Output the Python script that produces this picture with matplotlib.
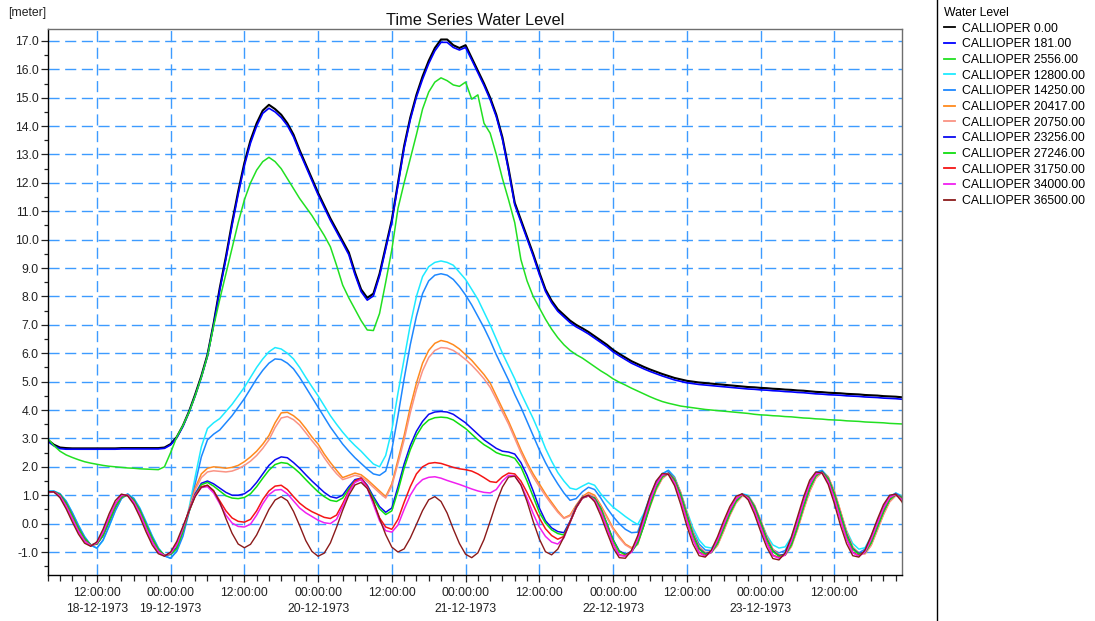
import numpy as np
import pandas as pd
import matplotlib
matplotlib.use("Agg")
import matplotlib.pyplot as plt
import matplotlib.dates as mdates
from matplotlib.ticker import MultipleLocator, FuncFormatter, FormatStrFormatter
from matplotlib.lines import Line2D

plt.rcParams['font.family'] = ['Liberation Sans', 'DejaVu Sans']

# Hourly water levels (m), first sample at 18-12-1973 04:00
START = pd.Timestamp('1973-12-18 04:00')
END = pd.Timestamp('1973-12-23 23:04')

chainages = ['0.00', '181.00', '2556.00', '12800.00', '14250.00', '20417.00',
             '20750.00', '23256.00', '27246.00', '31750.00', '34000.00', '36500.00']
colors = ['#000000', '#0000FF', '#22E022', '#1EEBFF', '#1E88FF', '#FF8A1E',
          '#FA9384', '#0A0AF0', '#10DD10', '#F51515', '#F020F0', '#8B1A1A']

level_0 = [
    2.95, 2.78, 2.68, 2.66, 2.65, 2.65, 2.65, 2.65, 2.65, 2.65,
    2.65, 2.65, 2.66, 2.66, 2.66, 2.66, 2.66, 2.66, 2.66, 2.68,
    2.80, 3.05, 3.45, 3.95, 4.55, 5.20, 5.95, 7.05, 8.30, 9.40,
    10.60, 11.70, 12.70, 13.50, 14.10, 14.55, 14.75, 14.60, 14.40, 14.10,
    13.70, 13.15, 12.65, 12.15, 11.65, 11.20, 10.75, 10.35, 9.95, 9.55,
    8.85, 8.25, 7.95, 8.10, 8.80, 9.75, 10.70, 12.00, 13.30, 14.30,
    15.10, 15.75, 16.30, 16.75, 17.05, 17.05, 16.85, 16.75, 16.85, 16.40,
    15.95, 15.50, 15.00, 14.40, 13.60, 12.50, 11.30, 10.70, 10.10, 9.50,
    8.85, 8.25, 7.85, 7.55, 7.35, 7.15, 7.00, 6.88, 6.75, 6.60,
    6.45, 6.30, 6.12, 5.98, 5.85, 5.72, 5.62, 5.52, 5.43, 5.35,
    5.27, 5.20, 5.13, 5.08, 5.03, 5.00, 4.97, 4.95, 4.93, 4.91,
    4.89, 4.87, 4.85, 4.83, 4.81, 4.80, 4.78, 4.77, 4.75, 4.74,
    4.72, 4.71, 4.69, 4.68, 4.66, 4.64, 4.63, 4.61, 4.60, 4.59,
    4.57, 4.56, 4.55, 4.53, 4.52, 4.51, 4.49, 4.48, 4.47, 4.45,
    4.44]

level_181 = [
    2.90, 2.74, 2.64, 2.62, 2.62, 2.62, 2.62, 2.62, 2.62, 2.62,
    2.62, 2.62, 2.63, 2.63, 2.63, 2.63, 2.63, 2.63, 2.63, 2.65,
    2.77, 3.02, 3.42, 3.92, 4.50, 5.15, 5.90, 7.00, 8.22, 9.32,
    10.50, 11.60, 12.60, 13.40, 14.00, 14.45, 14.63, 14.50, 14.30, 14.02,
    13.62, 13.08, 12.58, 12.08, 11.58, 11.13, 10.68, 10.28, 9.88, 9.47,
    8.77, 8.17, 7.87, 8.02, 8.72, 9.67, 10.62, 11.92, 13.22, 14.22,
    15.02, 15.65, 16.20, 16.65, 16.95, 16.95, 16.77, 16.68, 16.77, 16.33,
    15.88, 15.43, 14.93, 14.33, 13.53, 12.43, 11.23, 10.63, 10.03, 9.43,
    8.78, 8.18, 7.78, 7.48, 7.28, 7.08, 6.93, 6.81, 6.68, 6.53,
    6.38, 6.23, 6.05, 5.91, 5.78, 5.65, 5.55, 5.45, 5.36, 5.28,
    5.20, 5.13, 5.06, 5.01, 4.96, 4.93, 4.90, 4.88, 4.86, 4.84,
    4.82, 4.80, 4.78, 4.76, 4.74, 4.73, 4.71, 4.70, 4.68, 4.67,
    4.65, 4.64, 4.62, 4.61, 4.59, 4.57, 4.56, 4.54, 4.53, 4.52,
    4.50, 4.49, 4.48, 4.46, 4.45, 4.44, 4.42, 4.41, 4.40, 4.38,
    4.37]

level_2556 = [
    3.00, 2.75, 2.55, 2.42, 2.33, 2.25, 2.18, 2.13, 2.09, 2.05,
    2.02, 2.00, 1.98, 1.96, 1.95, 1.93, 1.92, 1.91, 1.90, 2.00,
    2.50, 3.05, 3.45, 3.92, 4.50, 5.15, 5.90, 6.95, 7.90, 8.80,
    9.70, 10.60, 11.40, 12.00, 12.45, 12.75, 12.90, 12.75, 12.50, 12.15,
    11.80, 11.45, 11.15, 10.85, 10.50, 10.15, 9.75, 9.10, 8.40, 7.95,
    7.55, 7.15, 6.82, 6.80, 7.40, 8.50, 9.65, 11.10, 12.00, 12.85,
    13.70, 14.60, 15.20, 15.55, 15.70, 15.60, 15.45, 15.40, 15.55, 14.95,
    15.10, 14.10, 13.75, 13.00, 12.15, 11.40, 10.60, 9.30, 8.55, 8.00,
    7.60, 7.20, 6.85, 6.55, 6.30, 6.10, 5.95, 5.83, 5.68, 5.53,
    5.38, 5.25, 5.10, 4.98, 4.88, 4.77, 4.67, 4.57, 4.47, 4.38,
    4.30, 4.24, 4.19, 4.14, 4.11, 4.08, 4.05, 4.02, 4.00, 3.98,
    3.96, 3.94, 3.92, 3.90, 3.88, 3.85, 3.83, 3.82, 3.80, 3.79,
    3.77, 3.76, 3.74, 3.72, 3.71, 3.69, 3.68, 3.66, 3.65, 3.64,
    3.62, 3.61, 3.60, 3.58, 3.57, 3.56, 3.55, 3.53, 3.52, 3.51,
    3.50]

level_12800 = [
    1.15, 1.15, 1.05, 0.80, 0.40, -0.05, -0.45, -0.75, -0.87, -0.60,
    -0.10, 0.45, 0.88, 1.05, 0.90, 0.55, 0.07, -0.42, -0.85, -1.13,
    -1.22, -0.95, -0.35, 0.55, 1.65, 2.70, 3.35, 3.55, 3.70, 3.95,
    4.20, 4.50, 4.80, 5.15, 5.50, 5.80, 6.05, 6.20, 6.15, 6.00,
    5.80, 5.50, 5.15, 4.82, 4.50, 4.15, 3.80, 3.50, 3.22, 2.97,
    2.75, 2.55, 2.32, 2.10, 2.00, 2.40, 3.30, 4.60, 5.80, 7.00,
    8.00, 8.70, 9.05, 9.20, 9.25, 9.20, 9.10, 8.85, 8.60, 8.25,
    7.90, 7.45, 7.00, 6.50, 6.00, 5.55, 5.10, 4.60, 4.15, 3.70,
    3.20, 2.65, 2.20, 1.80, 1.50, 1.25, 1.20, 1.32, 1.43, 1.35,
    1.05, 0.80, 0.58, 0.42, 0.25, 0.10, -0.03, 0.35, 0.95, 1.45,
    1.75, 1.88, 1.65, 1.10, 0.45, -0.15, -0.58, -0.82, -0.86, -0.62,
    -0.12, 0.42, 0.83, 1.05, 1.00, 0.65, 0.10, -0.40, -0.75, -0.86,
    -0.82, -0.48, 0.12, 0.80, 1.42, 1.80, 1.88, 1.65, 1.10, 0.40,
    -0.25, -0.70, -0.90, -0.85, -0.45, 0.08, 0.58, 0.93, 1.08, 0.98,
    0.65]

level_14250 = [
    1.13, 1.14, 1.05, 0.78, 0.38, -0.07, -0.47, -0.76, -0.86, -0.58,
    -0.08, 0.46, 0.88, 1.04, 0.88, 0.52, 0.04, -0.45, -0.87, -1.14,
    -1.22, -0.98, -0.45, 0.40, 1.40, 2.35, 2.95, 3.15, 3.30, 3.55,
    3.80, 4.10, 4.40, 4.75, 5.10, 5.40, 5.65, 5.80, 5.78, 5.65,
    5.45, 5.15, 4.80, 4.45, 4.10, 3.75, 3.40, 3.10, 2.80, 2.55,
    2.32, 2.12, 1.92, 1.75, 1.70, 1.85, 2.60, 3.80, 5.10, 6.30,
    7.30, 8.10, 8.55, 8.75, 8.80, 8.75, 8.60, 8.35, 8.05, 7.70,
    7.30, 6.90, 6.45, 5.95, 5.50, 5.05, 4.55, 4.10, 3.60, 3.10,
    2.60, 2.15, 1.75, 1.40, 1.08, 0.82, 0.88, 1.12, 1.28, 1.20,
    0.90, 0.55, 0.25, 0.00, -0.20, -0.32, -0.30, 0.30, 0.93, 1.45,
    1.75, 1.87, 1.62, 1.05, 0.35, -0.28, -0.72, -0.93, -0.95, -0.68,
    -0.15, 0.40, 0.82, 1.04, 0.97, 0.58, -0.02, -0.55, -0.92, -1.03,
    -0.95, -0.55, 0.10, 0.80, 1.42, 1.80, 1.87, 1.60, 1.00, 0.25,
    -0.42, -0.85, -1.03, -0.90, -0.48, 0.07, 0.58, 0.93, 1.07, 0.94,
    0.55]

level_20417 = [
    1.10, 1.12, 1.02, 0.72, 0.29, -0.16, -0.53, -0.75, -0.72, -0.42,
    0.08, 0.58, 0.93, 1.01, 0.83, 0.46, -0.03, -0.52, -0.91, -1.11,
    -1.08, -0.85, -0.25, 0.50, 1.25, 1.75, 1.95, 2.00, 1.98, 1.95,
    1.98, 2.05, 2.18, 2.35, 2.55, 2.80, 3.10, 3.55, 3.90, 3.92,
    3.80, 3.62, 3.35, 3.05, 2.80, 2.45, 2.15, 1.88, 1.62, 1.70,
    1.78, 1.72, 1.55, 1.35, 1.15, 0.95, 1.40, 2.25, 3.10, 4.10,
    4.95, 5.65, 6.10, 6.35, 6.45, 6.40, 6.30, 6.15, 5.95, 5.75,
    5.50, 5.25, 4.95, 4.50, 4.05, 3.60, 3.10, 2.60, 2.15, 1.75,
    1.40, 1.05, 0.75, 0.45, 0.20, 0.30, 0.65, 0.95, 1.10, 1.00,
    0.65, 0.25, -0.15, -0.45, -0.72, -0.85, -0.72, -0.05, 0.60, 1.20,
    1.60, 1.78, 1.60, 1.10, 0.40, -0.30, -0.82, -1.02, -1.00, -0.75,
    -0.25, 0.30, 0.74, 0.98, 0.97, 0.65, 0.12, -0.45, -0.90, -1.10,
    -1.10, -0.80, -0.20, 0.50, 1.15, 1.62, 1.82, 1.65, 1.15, 0.45,
    -0.28, -0.82, -1.05, -1.05, -0.75, -0.22, 0.33, 0.78, 1.00, 0.95,
    0.62]

level_20750 = [
    1.09, 1.11, 1.01, 0.71, 0.28, -0.17, -0.54, -0.76, -0.73, -0.43,
    0.07, 0.57, 0.92, 1.00, 0.82, 0.45, -0.04, -0.53, -0.92, -1.12,
    -1.08, -0.86, -0.27, 0.45, 1.18, 1.62, 1.82, 1.86, 1.84, 1.82,
    1.85, 1.93, 2.05, 2.20, 2.40, 2.65, 2.95, 3.38, 3.72, 3.77,
    3.66, 3.47, 3.20, 2.92, 2.66, 2.32, 2.02, 1.76, 1.55, 1.62,
    1.70, 1.65, 1.48, 1.28, 1.08, 0.90, 1.33, 2.12, 2.95, 3.90,
    4.72, 5.38, 5.85, 6.10, 6.20, 6.18, 6.10, 5.95, 5.78, 5.58,
    5.35, 5.10, 4.80, 4.38, 3.93, 3.50, 3.00, 2.50, 2.05, 1.65,
    1.30, 0.98, 0.68, 0.40, 0.18, 0.27, 0.60, 0.90, 1.05, 0.95,
    0.60, 0.20, -0.20, -0.50, -0.75, -0.88, -0.74, -0.08, 0.58, 1.18,
    1.58, 1.76, 1.58, 1.08, 0.38, -0.32, -0.84, -1.04, -1.02, -0.77,
    -0.27, 0.28, 0.72, 0.96, 0.95, 0.63, 0.10, -0.47, -0.92, -1.12,
    -1.12, -0.82, -0.22, 0.48, 1.13, 1.60, 1.80, 1.63, 1.13, 0.43,
    -0.30, -0.84, -1.07, -1.07, -0.77, -0.24, 0.31, 0.76, 0.98, 0.93,
    0.60]

level_23256 = [
    1.10, 1.12, 1.02, 0.72, 0.29, -0.16, -0.53, -0.75, -0.72, -0.42,
    0.08, 0.58, 0.93, 1.01, 0.83, 0.46, -0.03, -0.52, -0.91, -1.11,
    -1.08, -0.85, -0.25, 0.45, 1.05, 1.42, 1.50, 1.40, 1.25, 1.10,
    1.00, 1.00, 1.05, 1.20, 1.45, 1.75, 2.05, 2.25, 2.35, 2.32,
    2.15, 1.95, 1.72, 1.50, 1.30, 1.10, 0.95, 0.90, 1.00, 1.30,
    1.55, 1.60, 1.35, 0.95, 0.60, 0.40, 0.55, 1.30, 2.10, 2.75,
    3.25, 3.60, 3.85, 3.93, 3.95, 3.93, 3.85, 3.70, 3.55, 3.35,
    3.15, 2.95, 2.80, 2.65, 2.55, 2.52, 2.45, 2.15, 1.70, 1.15,
    0.55, 0.10, -0.15, -0.28, -0.32, 0.08, 0.60, 0.92, 0.98, 0.90,
    0.54, 0.00, -0.56, -0.96, -1.08, -0.98, -0.67, -0.06, 0.65, 1.26,
    1.66, 1.78, 1.55, 1.02, 0.32, -0.38, -0.88, -1.06, -1.00, -0.68,
    -0.16, 0.37, 0.79, 1.02, 0.95, 0.60, 0.06, -0.53, -0.96, -1.13,
    -1.08, -0.74, -0.11, 0.61, 1.25, 1.69, 1.83, 1.59, 1.06, 0.35,
    -0.37, -0.88, -1.06, -1.00, -0.66, -0.12, 0.43, 0.85, 1.03, 0.92,
    0.56]

level_27246 = [
    1.10, 1.12, 1.02, 0.72, 0.29, -0.16, -0.53, -0.75, -0.72, -0.42,
    0.08, 0.58, 0.93, 1.01, 0.83, 0.46, -0.03, -0.52, -0.91, -1.11,
    -1.08, -0.88, -0.28, 0.42, 1.00, 1.37, 1.45, 1.32, 1.15, 0.98,
    0.90, 0.88, 0.92, 1.05, 1.30, 1.60, 1.88, 2.08, 2.15, 2.12,
    1.97, 1.78, 1.55, 1.33, 1.12, 0.95, 0.82, 0.78, 0.90, 1.22,
    1.50, 1.55, 1.30, 0.88, 0.52, 0.32, 0.45, 1.15, 1.95, 2.60,
    3.10, 3.45, 3.65, 3.73, 3.75, 3.73, 3.65, 3.50, 3.35, 3.15,
    2.95, 2.78, 2.65, 2.50, 2.42, 2.38, 2.30, 2.00, 1.50, 0.95,
    0.40, 0.02, -0.22, -0.35, -0.40, 0.05, 0.58, 0.90, 0.97, 0.89,
    0.53, -0.01, -0.58, -0.98, -1.10, -1.00, -0.69, -0.08, 0.63, 1.24,
    1.64, 1.77, 1.54, 1.01, 0.30, -0.40, -0.90, -1.08, -1.02, -0.70,
    -0.18, 0.35, 0.78, 1.01, 0.94, 0.59, 0.04, -0.55, -0.98, -1.15,
    -1.10, -0.76, -0.13, 0.59, 1.24, 1.68, 1.82, 1.58, 1.05, 0.33,
    -0.39, -0.90, -1.08, -1.02, -0.68, -0.14, 0.41, 0.84, 1.02, 0.91,
    0.54]

level_31750 = [
    1.11, 1.12, 0.97, 0.62, 0.18, -0.27, -0.61, -0.78, -0.68, -0.31,
    0.22, 0.70, 0.99, 1.00, 0.76, 0.35, -0.16, -0.64, -0.99, -1.13,
    -1.04, -0.72, -0.15, 0.45, 1.00, 1.30, 1.35, 1.15, 0.80, 0.45,
    0.20, 0.08, 0.05, 0.15, 0.45, 0.85, 1.15, 1.32, 1.35, 1.20,
    0.95, 0.72, 0.55, 0.42, 0.32, 0.22, 0.18, 0.30, 0.70, 1.15,
    1.50, 1.60, 1.30, 0.75, 0.20, -0.12, -0.20, 0.15, 0.75, 1.30,
    1.75, 2.00, 2.12, 2.15, 2.12, 2.05, 1.98, 1.93, 1.90, 1.85,
    1.75, 1.62, 1.48, 1.45, 1.65, 1.78, 1.75, 1.50, 1.10, 0.65,
    0.20, -0.18, -0.42, -0.55, -0.45, 0.05, 0.56, 0.90, 0.98, 0.83,
    0.42, -0.14, -0.70, -1.10, -1.13, -0.99, -0.54, 0.12, 0.80, 1.37,
    1.71, 1.75, 1.45, 0.87, 0.13, -0.54, -1.01, -1.13, -0.99, -0.57,
    -0.03, 0.49, 0.88, 1.03, 0.90, 0.48, -0.10, -0.67, -1.11, -1.20,
    -1.09, -0.61, 0.06, 0.78, 1.40, 1.75, 1.80, 1.49, 0.89, 0.15,
    -0.54, -1.01, -1.13, -0.99, -0.54, 0.02, 0.55, 0.92, 1.03, 0.85,
    0.43]

level_34000 = [
    1.11, 1.12, 0.97, 0.62, 0.18, -0.27, -0.61, -0.78, -0.68, -0.31,
    0.22, 0.70, 0.99, 1.00, 0.76, 0.35, -0.16, -0.64, -0.99, -1.13,
    -1.04, -0.74, -0.17, 0.45, 0.98, 1.27, 1.30, 1.08, 0.70, 0.30,
    0.02, -0.10, -0.12, -0.02, 0.30, 0.70, 1.02, 1.18, 1.20, 1.05,
    0.80, 0.55, 0.38, 0.25, 0.12, 0.03, 0.00, 0.15, 0.60, 1.10,
    1.45, 1.55, 1.25, 0.68, 0.10, -0.25, -0.30, -0.05, 0.50, 1.00,
    1.35, 1.55, 1.63, 1.65, 1.60, 1.52, 1.45, 1.38, 1.30, 1.22,
    1.15, 1.10, 1.08, 1.20, 1.50, 1.70, 1.68, 1.38, 0.90, 0.35,
    -0.12, -0.45, -0.65, -0.72, -0.50, 0.05, 0.56, 0.90, 0.98, 0.83,
    0.41, -0.16, -0.72, -1.12, -1.15, -1.01, -0.56, 0.10, 0.80, 1.37,
    1.71, 1.74, 1.44, 0.85, 0.11, -0.56, -1.03, -1.15, -1.00, -0.58,
    -0.04, 0.48, 0.87, 1.03, 0.89, 0.47, -0.12, -0.69, -1.13, -1.22,
    -1.10, -0.62, 0.05, 0.77, 1.39, 1.75, 1.79, 1.48, 0.88, 0.14,
    -0.55, -1.03, -1.15, -1.00, -0.55, 0.01, 0.54, 0.92, 1.03, 0.84,
    0.42]

level_36500 = [
    1.12, 1.12, 0.91, 0.52, 0.06, -0.37, -0.69, -0.80, -0.64, -0.20,
    0.35, 0.81, 1.04, 0.98, 0.68, 0.23, -0.29, -0.75, -1.06, -1.15,
    -1.00, -0.63, -0.10, 0.45, 0.95, 1.28, 1.35, 1.16, 0.75, 0.18,
    -0.34, -0.72, -0.85, -0.73, -0.40, 0.05, 0.50, 0.83, 0.95, 0.81,
    0.43, -0.07, -0.60, -0.98, -1.15, -1.04, -0.68, -0.13, 0.47, 1.00,
    1.36, 1.45, 1.24, 0.79, 0.18, -0.39, -0.83, -1.00, -0.89, -0.51,
    -0.03, 0.46, 0.84, 0.95, 0.78, 0.37, -0.19, -0.70, -1.08, -1.20,
    -1.03, -0.56, 0.08, 0.74, 1.29, 1.64, 1.67, 1.36, 0.78, 0.08,
    -0.54, -0.99, -1.10, -0.90, -0.47, 0.06, 0.56, 0.91, 1.00, 0.77,
    0.28, -0.30, -0.85, -1.20, -1.22, -0.94, -0.43, 0.28, 0.97, 1.50,
    1.77, 1.73, 1.34, 0.68, -0.08, -0.72, -1.13, -1.18, -0.93, -0.46,
    0.10, 0.60, 0.96, 1.05, 0.83, 0.34, -0.27, -0.83, -1.23, -1.28,
    -1.03, -0.48, 0.23, 0.94, 1.53, 1.82, 1.78, 1.38, 0.71, -0.06,
    -0.71, -1.13, -1.18, -0.93, -0.42, 0.15, 0.67, 1.00, 1.04, 0.77,
    0.30]

levels = [level_0, level_181, level_2556, level_12800, level_14250, level_20417,
          level_20750, level_23256, level_27246, level_31750, level_34000, level_36500]
widths = [1.5, 1.2, 1.1, 1.1, 1.1, 1.1, 1.1, 1.1, 1.1, 1.1, 1.1, 1.0]

W, H = 1095, 621
fig = plt.figure(figsize=(W / 100, H / 100), dpi=100)
ax = fig.add_axes([47.7 / W, 1 - 575 / H, (902.3 - 47.7) / W, (575 - 29) / H])

for name, vals, col, lw in zip(chainages, levels, colors, widths):
    t = (START + pd.to_timedelta(np.arange(len(vals)), unit='h')).values
    ax.plot(t, vals, color=col, lw=lw, label=f'CALLIOPER {name}',
            solid_joinstyle='round')

ax.set_xlim(START, END)
ax.set_ylim(-1.81, 17.42)

# axis ticks
ax.yaxis.set_major_locator(MultipleLocator(1.0))
ax.yaxis.set_minor_locator(MultipleLocator(0.5))
ax.yaxis.set_major_formatter(FormatStrFormatter('%.1f'))

ax.xaxis.set_major_locator(mdates.HourLocator(byhour=[0, 12]))
ax.xaxis.set_minor_locator(mdates.HourLocator(byhour=range(0, 24, 2)))


def time_label(x, pos=None):
    d = mdates.num2date(x)
    s = d.strftime('%H:%M:%S')
    if d.hour == 0 or d.day == 18:
        s += '\n' + d.strftime('%d-%m-%Y')
    return s


ax.xaxis.set_major_formatter(FuncFormatter(time_label))

ax.tick_params(axis='both', which='major', labelsize=8.8, colors='#222222',
               direction='out', width=0.9)
ax.tick_params(axis='y', which='major', length=5.0, pad=1.5)
ax.tick_params(axis='y', which='minor', length=3.0, width=0.9, color='#222222')
ax.tick_params(axis='x', which='major', length=4.8, pad=4.0)
ax.tick_params(axis='x', which='minor', length=4.2, width=0.9, color='#222222')
for lbl in ax.get_xticklabels():
    lbl.set_linespacing(1.4)

ax.grid(True, which='major', color='#3d9bff', linestyle=(0, (8, 4)), linewidth=1.0)
ax.set_axisbelow(True)

for side in ('left', 'bottom'):
    ax.spines[side].set_color('#000000')
    ax.spines[side].set_linewidth(1.0)
for side in ('top', 'right'):
    ax.spines[side].set_color('#6e6e6e')
    ax.spines[side].set_linewidth(1.0)

ax.set_title('Time Series Water Level', fontsize=11.8, color='#111111', pad=3)
fig.text(8 / W, 1 - 13 / H, '[meter]', fontsize=8.8, va='center', ha='left', color='#222222')

# legend panel
fig.add_artist(Line2D([937 / W, 937 / W], [0, 1], color='black', lw=1.0))
handles, labels = ax.get_legend_handles_labels()
leg = fig.legend(handles, labels, loc='upper left', bbox_to_anchor=(944 / W, 1 - 7 / H),
                 frameon=False, fontsize=8.8, title='Water Level', title_fontsize=8.8,
                 alignment='left', borderpad=0, borderaxespad=0, handlelength=0.9,
                 handletextpad=0.55, labelspacing=0.3)
for line in leg.get_lines():
    line.set_linewidth(1.3)

fig.savefig('out.png', dpi=100)
